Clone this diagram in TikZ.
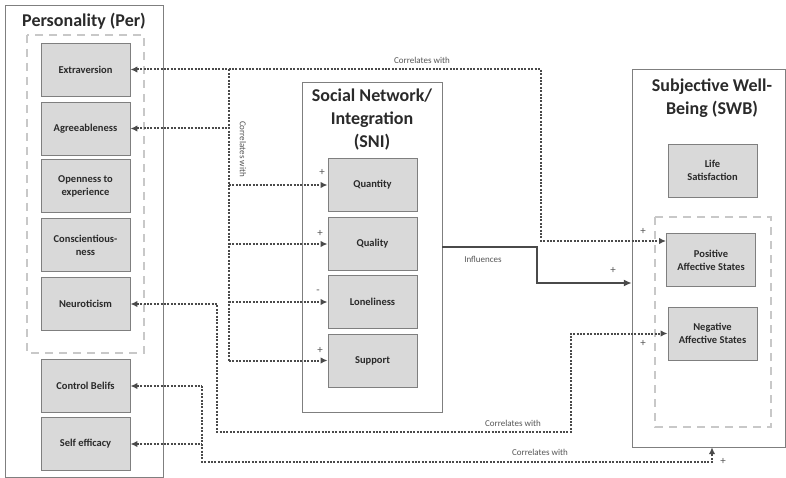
\documentclass[tikz,border=0pt]{standalone}
\usepackage{fontspec}
\setmainfont{Carlito}
\usetikzlibrary{arrows.meta,calc}
\definecolor{boxfill}{HTML}{D9D9D9}
\definecolor{boxline}{HTML}{7F7F7F}
\definecolor{dashc}{HTML}{C8C8C8}
\definecolor{dotc}{HTML}{4A4A4A}
\definecolor{txt}{HTML}{2A2A2A}
\definecolor{lbl}{HTML}{555555}
\tikzset{
  item/.style={draw=boxline, fill=boxfill, line width=0.9pt, minimum width=89pt, minimum height=53pt,
     align=center, font=\fontsize{10.5}{13}\selectfont\bfseries, text=txt, inner sep=1pt},
  outer/.style={draw=boxline, line width=0.9pt, fill=white},
  dbox/.style={draw=dashc, line width=1.6pt, dash pattern=on 8pt off 6pt},
  corr/.style={draw=dotc, line width=2pt, dash pattern=on 2pt off 1.4pt},
  tp/.tip={Latex[length=7pt,width=6.5pt]},
  infl/.style={draw=dotc, line width=2.4pt},
  lab/.style={font=\fontsize{9}{10}\selectfont, text=lbl},
  sgn/.style={font=\fontsize{11}{11}\selectfont, text=lbl},
  ttl/.style={font=\fontsize{18}{23}\selectfont\bfseries, text=txt, align=center}
}
\begin{document}
\begin{tikzpicture}[x=1pt,y=-1pt]
\useasboundingbox (0,0) rectangle (786,478);
% outer boxes
\draw[outer] (5,5) rectangle (163,477);
\draw[outer] (302,82) rectangle (442,412);
\draw[outer] (632,69) rectangle (785,447);
\node[minimum width=140pt,minimum height=330pt,inner sep=0pt] (sni) at (372,247) {};
\node[minimum width=153pt,minimum height=378pt,inner sep=0pt] (swb) at (708.5,258) {};
% dashed boxes
\draw[dbox] (27,35) rectangle (144,353);
\draw[dbox] (655,217) rectangle (771,427);
% titles
\node[ttl] (tper) at (84,21) {Personality (Per)};
\node[ttl] (tsni) at (372,120) {Social Network/\\Integration\\(SNI)};
\node[ttl] (tswb) at (712,98) {Subjective Well-\\Being (SWB)};
% personality items
\node[item] (ext) at (85.5,69.5) {Extraversion};
\node[item] (agr) at (85.5,128.5) {Agreeableness};
\node[item] (open) at (85.5,186) {Openness to\\experience};
\node[item] (cons) at (85.5,245) {Conscientious-\\ness};
\node[item] (neur) at (85.5,304) {Neuroticism};
\node[item] (ctrl) at (85.5,386) {Control Belifs};
\node[item] (self) at (85.5,444) {Self efficacy};
% SNI items
\node[item] (quan) at (372.5,185) {Quantity};
\node[item] (qual) at (372.5,244) {Quality};
\node[item] (lone) at (372.5,302) {Loneliness};
\node[item] (supp) at (372.5,360.5) {Support};
% SWB items
\node[item] (life) at (712.5,170.5) {Life\\Satisfaction};
\node[item] (pos) at (711,260) {Positive\\Affective States};
\node[item] (neg) at (712.5,333.5) {Negative\\Affective States};
% coordinates
\coordinate (j1) at (541,241);
\coordinate (v1) at (229,69.5);
\coordinate (v2) at (229,360.5);
\coordinate (n1) at (217,432);
\coordinate (n2) at (571,333.5);
\coordinate (c1) at (202,386);
\coordinate (c2) at (712,462);
\coordinate (i1) at (537,247);
\coordinate (i2) at (537,283);
% extraversion <-> positive
\draw[corr,tp-tp] (ext.east) -| (j1) -- (j1 -| pos.west);
% vertical correlates line
\draw[corr] (v1) -- (v2);
\draw[corr,tp-] (agr.east) -- (agr.east -| v1);
\draw[corr,-tp] (quan.west -| v1) -- (quan.west);
\draw[corr,-tp] (qual.west -| v1) -- (qual.west);
\draw[corr,-tp] (lone.west -| v1) -- (lone.west);
\draw[corr,-tp] (v2) -- (supp.west);
% neuroticism <-> negative
\draw[corr,tp-tp] (neur.east) -| (n1) -| (n2) -- (neg.west);
% control / self efficacy <-> SWB
\draw[corr,tp-] (ctrl.east) -- (c1);
\draw[corr,tp-] (self.east) -- (self.east -| c1);
\draw[corr,-tp] (c1) |- (c2) -- (c2 |- swb.south);
% influences
\draw[infl,-{Latex[length=8pt,width=7pt]}] (i1 -| sni.east) -- (i1) -- (i2) -- (i2 -| swb.west);
% labels
\node[lab] (l1) at (422,60) {Correlates with};
\node[lab,rotate=-90] (l2) at (243,149) {Correlates with};
\node[lab] (l3) at (513,423) {Correlates with};
\node[lab] (l4) at (540,452) {Correlates with};
\node[lab] (l5) at (483,259) {Influences};
\node[sgn] (s1) at (322,172) {+};
\node[sgn] (s2) at (320,233) {+};
\node[sgn] (s3) at (318,292) {-};
\node[sgn] (s4) at (320,350) {+};
\node[sgn] (s5) at (613,270) {+};
\node[sgn] (s6) at (643,231) {+};
\node[sgn] (s7) at (643,343) {+};
\node[sgn] (s8) at (723,461) {+};
\end{tikzpicture}
\end{document}
